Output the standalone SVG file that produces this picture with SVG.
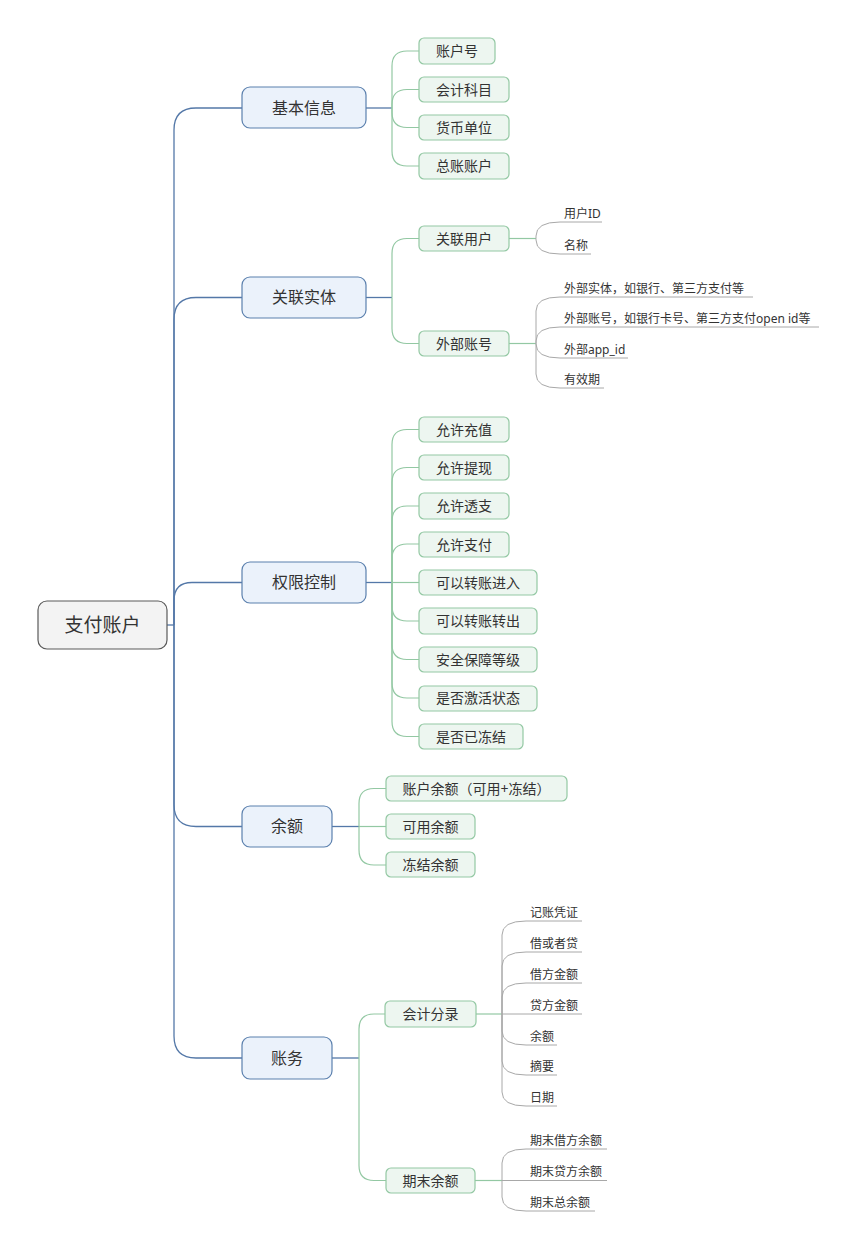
<svg xmlns="http://www.w3.org/2000/svg" width="857" height="1250" viewBox="0 0 857 1250">
<style>
text{font-family:"Noto Sans","Noto Sans CJK SC",sans-serif;fill:#333;text-spacing-trim:space-all;}
.root rect{fill:#f3f3f3;stroke:#5a5a5a;stroke-width:1.2;}
.root text{font-size:19px;text-anchor:middle;}
.main rect{fill:#ebf2fb;stroke:#5b80ae;stroke-width:1.2;}
.main text{font-size:16px;text-anchor:middle;}
.sub rect{fill:#edf6f0;stroke:#93c8a3;stroke-width:1.2;}
.sub text{font-size:14px;text-anchor:middle;}
.leaf text{font-size:12px;}
.cb{fill:none;stroke:#5478a8;stroke-width:1.3;}
.cg{fill:none;stroke:#93c8a3;stroke-width:1.2;}
.cy{fill:none;stroke:#a8a8a8;stroke-width:1;}
</style>
<g id="connectors">
<path class="cb" d="M167,625 H174"/>
<path class="cb" d="M174,625 V130 Q174,108 196,108 H242"/>
<path class="cb" d="M174,625 V319.5 Q174,297.5 196,297.5 H242"/>
<path class="cb" d="M174,625 V600.5 Q174,582.5 192,582.5 H242"/>
<path class="cb" d="M174,625 V804.5 Q174,826.5 196,826.5 H242"/>
<path class="cb" d="M174,625 V1036 Q174,1058 196,1058 H242"/>
<path class="cb" d="M366,108 H392"/>
<path class="cb" d="M366,297.5 H392"/>
<path class="cb" d="M366,582.5 H392"/>
<path class="cb" d="M332,826.5 H359"/>
<path class="cb" d="M332,1058 H359"/>
<path class="cg" d="M392,108 V66 Q392,51 407,51 H419"/>
<path class="cg" d="M392,108 V104.5 Q392,89.5 407,89.5 H419"/>
<path class="cg" d="M392,108 V112.5 Q392,127.5 407,127.5 H419"/>
<path class="cg" d="M392,108 V151 Q392,166 407,166 H419"/>
<path class="cg" d="M392,297.5 V253.5 Q392,238.5 407,238.5 H419"/>
<path class="cg" d="M392,297.5 V328.5 Q392,343.5 407,343.5 H419"/>
<path class="cg" d="M392,582.5 V444.5 Q392,429.5 407,429.5 H419"/>
<path class="cg" d="M392,582.5 V482.5 Q392,467.5 407,467.5 H419"/>
<path class="cg" d="M392,582.5 V521 Q392,506 407,506 H419"/>
<path class="cg" d="M392,582.5 V559 Q392,544 407,544 H419"/>
<path class="cg" d="M392,582.5 H419"/>
<path class="cg" d="M392,582.5 V606 Q392,621 407,621 H419"/>
<path class="cg" d="M392,582.5 V644.5 Q392,659.5 407,659.5 H419"/>
<path class="cg" d="M392,582.5 V683 Q392,698 407,698 H419"/>
<path class="cg" d="M392,582.5 V721.5 Q392,736.5 407,736.5 H419"/>
<path class="cg" d="M359,826.5 V803.5 Q359,788.5 374,788.5 H386"/>
<path class="cg" d="M359,826.5 H386"/>
<path class="cg" d="M359,826.5 V850 Q359,865 374,865 H386"/>
<path class="cg" d="M359,1058 V1029 Q359,1014 374,1014 H385"/>
<path class="cg" d="M359,1058 V1165.5 Q359,1180.5 374,1180.5 H386"/>
<path class="cg" d="M509,238.5 H536"/>
<path class="cg" d="M509,343.5 H536"/>
<path class="cg" d="M476,1014 H502"/>
<path class="cg" d="M475,1180.5 H502"/>
<path class="cy" d="M536,238.5 V236 Q536,222 560,222 H602"/>
<path class="cy" d="M536,238.5 V240 Q536,254 560,254 H591"/>
<path class="cy" d="M536,343.5 V311 Q536,297 560,297 H753"/>
<path class="cy" d="M536,343.5 V341 Q536,327 560,327 H819"/>
<path class="cy" d="M536,343.5 V344 Q536,358 560,358 H628"/>
<path class="cy" d="M536,343.5 V374 Q536,388 560,388 H604"/>
<path class="cy" d="M502,1014 V935 Q502,921 526,921 H582"/>
<path class="cy" d="M502,1014 V966 Q502,952 526,952 H582"/>
<path class="cy" d="M502,1014 V997 Q502,983 526,983 H582"/>
<path class="cy" d="M502,1014 H582"/>
<path class="cy" d="M502,1014 V1031 Q502,1045 526,1045 H557"/>
<path class="cy" d="M502,1014 V1061 Q502,1075 526,1075 H557"/>
<path class="cy" d="M502,1014 V1092 Q502,1106 526,1106 H557"/>
<path class="cy" d="M502,1180.5 V1163 Q502,1149 526,1149 H607"/>
<path class="cy" d="M502,1180.5 H607"/>
<path class="cy" d="M502,1180.5 V1197 Q502,1211 526,1211 H595"/>
</g>
<g id="root" class="root"><rect x="38" y="601" width="129" height="48" rx="9"/><text x="102.5" y="631.5">支付账户</text></g>
<g id="n-jbxx" class="main"><rect x="242" y="87" width="124" height="41" rx="8"/><text x="304" y="113.5">基本信息</text></g>
<g id="n-glst" class="main"><rect x="242" y="277" width="124" height="41" rx="8"/><text x="304" y="303">关联实体</text></g>
<g id="n-qxkz" class="main"><rect x="242" y="562" width="124" height="41" rx="8"/><text x="304" y="588">权限控制</text></g>
<g id="n-ye" class="main"><rect x="242" y="806" width="90" height="41" rx="8"/><text x="287" y="832">余额</text></g>
<g id="n-zw" class="main"><rect x="242" y="1037" width="90" height="42" rx="8"/><text x="287" y="1063.5">账务</text></g>
<g id="s-zhh" class="sub"><rect x="419" y="38" width="76" height="26" rx="5"/><text x="457" y="56">账户号</text></g>
<g id="s-kjkm" class="sub"><rect x="419" y="77" width="90" height="25" rx="5"/><text x="464" y="94.5">会计科目</text></g>
<g id="s-hbdw" class="sub"><rect x="419" y="115" width="90" height="25" rx="5"/><text x="464" y="132.5">货币单位</text></g>
<g id="s-zzzh" class="sub"><rect x="419" y="153" width="90" height="26" rx="5"/><text x="464" y="171">总账账户</text></g>
<g id="s-glyh" class="sub"><rect x="419" y="226" width="90" height="25" rx="5"/><text x="464" y="243.5">关联用户</text></g>
<g id="s-wbzh" class="sub"><rect x="419" y="331" width="90" height="25" rx="5"/><text x="464" y="348.5">外部账号</text></g>
<g id="s-yxcz" class="sub"><rect x="419" y="417" width="90" height="25" rx="5"/><text x="464" y="434.5">允许充值</text></g>
<g id="s-yxtx" class="sub"><rect x="419" y="455" width="90" height="25" rx="5"/><text x="464" y="472.5">允许提现</text></g>
<g id="s-yxtz" class="sub"><rect x="419" y="493" width="90" height="26" rx="5"/><text x="464" y="511">允许透支</text></g>
<g id="s-yxzf" class="sub"><rect x="419" y="532" width="90" height="25" rx="5"/><text x="464" y="549.5">允许支付</text></g>
<g id="s-zzjr" class="sub"><rect x="419" y="570" width="118" height="25" rx="5"/><text x="478" y="587.5">可以转账进入</text></g>
<g id="s-zzzc" class="sub"><rect x="419" y="608" width="118" height="26" rx="5"/><text x="478" y="626">可以转账转出</text></g>
<g id="s-aqbz" class="sub"><rect x="419" y="647" width="118" height="25" rx="5"/><text x="478" y="664.5">安全保障等级</text></g>
<g id="s-jhzt" class="sub"><rect x="419" y="686" width="118" height="25" rx="5"/><text x="478" y="703">是否激活状态</text></g>
<g id="s-ydj" class="sub"><rect x="419" y="724" width="104" height="25" rx="5"/><text x="471" y="741.5">是否已冻结</text></g>
<g id="s-zhye" class="sub"><rect x="386" y="776" width="181" height="25" rx="5"/><text x="476.5" y="793.5">账户余额（可用+冻结）</text></g>
<g id="s-kyye" class="sub"><rect x="386" y="814" width="89" height="25" rx="5"/><text x="430.5" y="831.5">可用余额</text></g>
<g id="s-djye" class="sub"><rect x="386" y="852" width="89" height="25" rx="5"/><text x="430.5" y="869.5">冻结余额</text></g>
<g id="s-kjfl" class="sub"><rect x="385" y="1001" width="91" height="26" rx="5"/><text x="430.5" y="1019">会计分录</text></g>
<g id="s-qmye" class="sub"><rect x="386" y="1168" width="89" height="25" rx="5"/><text x="430.5" y="1185.5">期末余额</text></g>
<g id="leaves" class="leaf">
<text x="564" y="218">用户ID</text>
<text x="564" y="250">名称</text>
<text x="564" y="293">外部实体，如银行、第三方支付等</text>
<text x="564" y="323">外部账号，如银行卡号、第三方支付open id等</text>
<text x="564" y="354">外部app_id</text>
<text x="564" y="384">有效期</text>
<text x="530" y="917">记账凭证</text>
<text x="530" y="948">借或者贷</text>
<text x="530" y="979">借方金额</text>
<text x="530" y="1010">贷方金额</text>
<text x="530" y="1041">余额</text>
<text x="530" y="1071">摘要</text>
<text x="530" y="1102">日期</text>
<text x="530" y="1145">期末借方余额</text>
<text x="530" y="1176">期末贷方余额</text>
<text x="530" y="1207">期末总余额</text>
</g>
</svg>
